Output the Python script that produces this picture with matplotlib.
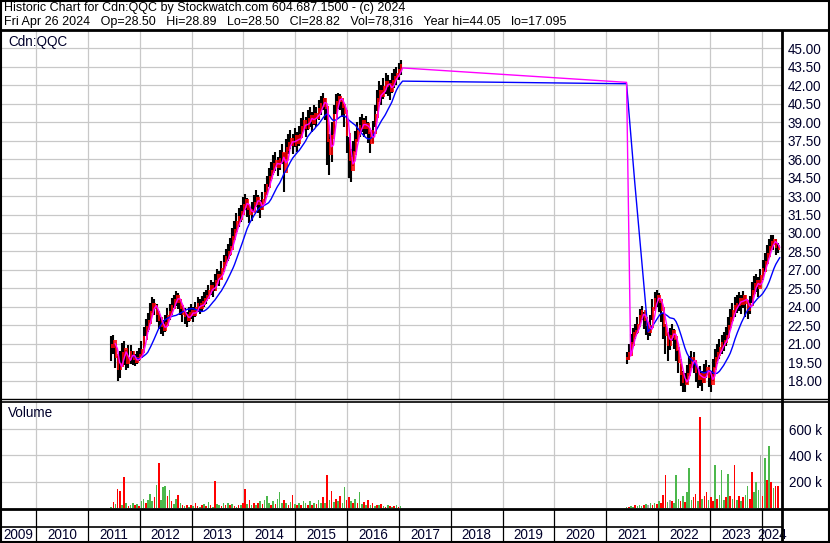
import numpy as np
import pandas as pd
import matplotlib
matplotlib.use("Agg")
import matplotlib.pyplot as plt

plt.rcParams['font.family'] = ['Liberation Sans', 'DejaVu Sans']

W, H = 830, 543

# ── data (semi-monthly samples, decimal-year dates) ─────────────────────────
START_A = 2011.45
START_B = 2021.39
STEP = 1 / 24

close_a = [20.8, 21.2, 20.0, 19.0, 19.3, 20.2, 20.5, 19.5, 19.8, 20.3,
           19.8, 19.6, 19.8, 20.0, 20.4, 21.5, 22.3, 22.8, 23.5, 24.2,
           24.0, 23.5, 23.0, 22.5, 22.2, 22.6, 23.2, 23.5, 24.0, 24.5,
           24.8, 24.5, 24.0, 23.5, 23.3, 23.0, 23.4, 23.6, 23.4, 23.8,
           24.2, 24.0, 24.3, 24.6, 24.8, 25.2, 25.6, 25.4, 26.0, 26.5,
           26.3, 27.0, 27.5, 28.0, 28.4, 28.8, 29.6, 30.2, 30.8, 31.2,
           31.6, 32.2, 32.6, 32.0, 31.6, 31.8, 32.4, 32.8, 32.4, 32.0,
           32.6, 33.2, 33.8, 34.5, 35.0, 35.5, 35.8, 35.4, 35.9, 36.4,
           35.0, 36.8, 37.2, 37.6, 37.2, 37.8, 37.4, 37.9, 38.5, 39.0,
           38.6, 39.2, 39.4, 39.0, 39.6, 39.4, 40.0, 40.4, 40.8, 40.2,
           37.5, 36.5, 37.8, 39.5, 40.6, 41.0, 40.8, 40.3, 39.8, 38.0,
           36.0, 35.2, 36.5, 37.5, 38.2, 38.6, 39.0, 38.6, 38.8, 38.2,
           37.4, 38.2, 39.5, 40.8, 41.5, 41.2, 41.8, 42.2, 42.0, 41.6,
           42.3, 42.6, 42.8, 43.2, 43.6]
high_a = [21.6, 21.7, 21.0, 20.0, 20.4, 21.1, 21.2, 20.5, 20.9, 20.9,
          20.4, 20.2, 20.4, 20.7, 21.2, 22.4, 23.0, 23.5, 24.3, 24.8,
          24.6, 24.2, 23.7, 23.2, 22.9, 23.3, 23.9, 24.2, 24.7, 25.0,
          25.3, 25.1, 24.6, 24.1, 23.9, 23.6, 24.0, 24.2, 24.0, 24.4,
          24.8, 24.6, 24.9, 25.2, 25.4, 25.8, 26.2, 26.0, 26.7, 27.1,
          26.9, 27.7, 28.2, 28.7, 29.1, 29.6, 30.4, 31.0, 31.6, 32.0,
          32.3, 32.9, 33.2, 32.8, 32.3, 32.5, 33.1, 33.5, 33.1, 32.7,
          33.3, 34.0, 34.6, 35.3, 35.8, 36.3, 36.6, 36.2, 36.7, 37.2,
          36.5, 37.6, 38.0, 38.4, 38.0, 38.5, 38.2, 38.7, 39.3, 39.8,
          39.4, 40.0, 40.2, 39.8, 40.4, 40.2, 40.8, 41.1, 41.4, 41.0,
          40.2, 38.0, 39.0, 40.4, 41.3, 41.4, 41.3, 40.9, 40.5, 39.6,
          37.8, 36.8, 37.5, 38.3, 39.0, 39.4, 39.7, 39.3, 39.5, 39.0,
          38.2, 39.1, 40.4, 41.6, 42.3, 42.0, 42.6, 43.0, 42.8, 42.4,
          43.0, 43.3, 43.5, 43.8, 44.05]
low_a = [19.6, 20.2, 19.0, 18.0, 18.2, 19.2, 19.3, 18.9, 19.0, 19.4,
         19.3, 19.2, 19.4, 19.6, 19.9, 20.7, 21.6, 22.0, 22.7, 23.5,
         23.3, 22.8, 22.2, 21.8, 21.6, 22.0, 22.5, 22.9, 23.3, 23.9,
         24.1, 23.8, 23.3, 22.8, 22.6, 22.4, 22.8, 23.0, 22.8, 23.2,
         23.6, 23.4, 23.7, 24.0, 24.2, 24.6, 25.0, 24.8, 25.3, 25.9,
         25.7, 26.3, 26.8, 27.3, 27.7, 28.1, 28.8, 29.4, 30.0, 30.5,
         30.9, 31.5, 31.9, 31.3, 30.8, 31.0, 31.7, 32.1, 31.6, 31.2,
         31.9, 32.5, 33.1, 33.7, 34.2, 34.7, 35.0, 34.6, 35.1, 35.6,
         33.3, 36.0, 36.4, 36.8, 36.4, 37.0, 36.6, 37.1, 37.7, 38.2,
         37.8, 38.4, 38.6, 38.2, 38.8, 38.6, 39.2, 39.6, 40.0, 39.2,
         35.5, 34.7, 35.8, 38.0, 39.7, 40.1, 40.0, 39.4, 38.6, 36.5,
         34.5, 34.1, 35.4, 36.6, 37.4, 37.8, 38.2, 37.8, 38.0, 37.3,
         36.5, 37.3, 38.6, 39.9, 40.6, 40.4, 40.9, 41.3, 41.1, 40.8,
         41.4, 41.8, 42.0, 42.4, 42.8]
vol_a = [5, 45, 30, 142, 130, 20, 237, 35, 15, 25,
         40, 20, 30, 15, 50, 70, 40, 60, 110, 50,
         80, 173, 344, 60, 160, 165, 90, 140, 50, 30,
         70, 97, 40, 20, 15, 25, 10, 20, 15, 38,
         15, 10, 20, 30, 15, 45, 20, 10, 207, 30,
         20, 15, 40, 25, 35, 20, 30, 15, 10, 25,
         20, 40, 145, 30, 60, 25, 40, 20, 35, 50,
         30, 60, 91, 40, 25, 50, 30, 70, 122, 40,
         60, 35, 20, 45, 97, 30, 25, 40, 20, 55,
         35, 25, 50, 20, 40, 30, 60, 35, 80, 40,
         252, 60, 129, 45, 70, 50, 90, 40, 163, 60,
         80, 50, 40, 70, 35, 122, 30, 45, 25, 60,
         20, 35, 15, 25, 20, 30, 15, 10, 20, 15,
         10, 15, 20, 10, 15]
dir_a = ("grgrrgrgrg" "grgrggrggg" "rgrgggrgrg" "grgrgrgrgr" "rgrgrgrgrg"
         "grgrgrgrgr" "grrgrgrgrg" "rgggrgrggg" "rgrgrgrgrg" "grgrgrggrg"
         "rgrgrgrggr" "rgrgrggrgr" "grgrgrgrgr" "grgrg")

close_b = [19.8, 20.2, 21.0, 21.8, 22.0, 22.5, 23.2, 23.6, 23.0, 22.6,
           22.0, 22.4, 23.8, 24.6, 24.8, 24.5, 23.8, 22.5, 21.8, 21.0,
           21.6, 22.0, 21.5, 20.6, 19.6, 18.6, 18.0, 17.8, 18.5, 19.2,
           19.8, 19.5, 18.8, 18.2, 18.5, 18.0, 18.6, 19.0, 18.4, 17.8,
           19.0, 19.8, 20.2, 20.6, 21.0, 21.2, 21.6, 22.4, 23.0, 23.6,
           24.0, 24.2, 24.6, 24.3, 24.8, 24.4, 23.8, 24.2, 25.2, 25.8,
           26.0, 25.6, 26.4, 27.0, 27.6, 28.2, 28.8, 29.2, 29.4, 28.9,
           28.8]
high_b = [20.3, 21.0, 21.8, 22.3, 22.6, 23.2, 23.8, 24.1, 23.6, 23.1,
          22.6, 23.3, 24.6, 25.2, 25.4, 25.1, 24.5, 23.5, 22.6, 21.9,
          22.3, 22.6, 22.2, 21.4, 20.5, 19.4, 18.8, 18.6, 19.3, 20.0,
          20.4, 20.3, 19.6, 19.0, 19.2, 18.8, 19.4, 19.7, 19.3, 18.8,
          19.8, 20.6, 21.0, 21.4, 21.7, 22.0, 22.4, 23.2, 23.8, 24.3,
          24.8, 25.0, 25.2, 25.0, 25.3, 25.0, 24.5, 24.9, 26.0, 26.5,
          26.7, 26.4, 27.1, 27.8, 28.4, 29.0, 29.5, 29.8, 29.8, 29.5,
          29.2]
low_b = [19.4, 19.7, 20.3, 21.0, 21.4, 21.8, 22.5, 22.9, 22.2, 21.7,
         21.3, 21.6, 22.9, 23.8, 24.0, 23.6, 22.8, 21.4, 20.2, 19.6,
         20.5, 21.2, 20.6, 19.6, 18.6, 17.6, 17.1, 17.1, 17.7, 18.4,
         19.0, 18.6, 17.9, 17.4, 17.6, 17.2, 17.8, 18.2, 17.5, 17.1,
         18.0, 19.0, 19.4, 19.8, 20.2, 20.4, 20.8, 21.4, 22.1, 22.8,
         23.2, 23.5, 23.7, 23.4, 23.9, 23.2, 23.0, 23.4, 24.3, 25.0,
         25.2, 24.8, 25.6, 26.2, 26.8, 27.4, 28.0, 28.5, 28.6, 28.2,
         28.4]
vol_b = [5, 10, 15, 10, 20, 15, 25, 15, 20, 30,
         20, 35, 25, 40, 30, 50, 35, 99, 251, 45,
         60, 56, 40, 251, 70, 50, 90, 45, 124, 306,
         60, 80, 106, 50, 694, 70, 90, 124, 60, 80,
         50, 327, 70, 100, 289, 60, 80, 261, 90, 70,
         327, 60, 90, 50, 80, 100, 167, 70, 274, 120,
         198, 140, 403, 90, 378, 213, 471, 200, 150, 167,
         167]
dir_b = ("grggrgggrg" "ngrgrgrrrg" "nrgggrgrgg" "grrgrgrrgr" "rgrgggrgrg"
         "rgrgrggrrg" "ggnrgrgrgr" "r")

YEARS = list(range(2009, 2025))
PRICE_TICKS = np.arange(18.0, 45.01, 1.5)
VOL_TICKS = [200000, 400000, 600000]

HEADER_1 = "Historic Chart for Cdn:QQC by Stockwatch.com 604.687.1500 - (c) 2024"
HEADER_2 = ("Fri Apr 26 2024   Op=28.50   Hi=28.89   Lo=28.50   Cl=28.82   "
            "Vol=78,316   Year hi=44.05   lo=17.095")

# ── derived series ──────────────────────────────────────────────────────────
t_a = START_A + np.arange(len(close_a)) * STEP
t_b = START_B + np.arange(len(close_b)) * STEP
t = np.concatenate([t_a, t_b])
close = np.array(close_a + close_b)
high = np.array(high_a + high_b)
low = np.array(low_a + low_b)
vol = np.array(vol_a + vol_b) * 1000.0
dirs = dir_a + dir_b

# previous close within each segment (no jump across the 2017-2021 gap)
prev = np.concatenate([[close_a[0]], close_a[:-1], [close_b[0]], close_b[:-1]])

# moving averages on a ~daily grid (each sample stands for ~10 trading days)
REP = 10
t_day = (t[:, None] + np.arange(REP)[None, :] * STEP / REP).ravel()
daily = pd.Series(np.repeat(close, REP))
ma_fast = daily.rolling(20, min_periods=20).mean()
ma_slow = daily.rolling(100, min_periods=100).mean()

XLIM = (2009.325, 2024.388)
TEXT = '#00002a'
GRID = '#c8c8c8'
FS = 9.75      # 13 px labels
FS_HEAD = 9    # 12 px header


def frac(x0, y0, x1, y1):
    return [x0 / W, 1 - y1 / H, (x1 - x0) / W, (y1 - y0) / H]


fig = plt.figure(figsize=(W / 100, H / 100), dpi=100)

# ── price panel ─────────────────────────────────────────────────────────────
ax = fig.add_axes(frac(1, 31, 782, 399))
ax.set_xlim(*XLIM)
ax.set_ylim(16.52, 46.40)
ax.set_xticks(YEARS[1:])
ax.set_yticks(PRICE_TICKS)
ax.set_yticklabels([f"{v:.2f}" for v in PRICE_TICKS])
ax.yaxis.tick_right()
ax.tick_params(axis='y', length=0, pad=4, labelsize=FS, labelcolor=TEXT)
ax.tick_params(axis='x', length=0, labelbottom=False)
ax.grid(True, color=GRID, lw=0.9)
ax.set_axisbelow(True)
for s in ax.spines.values():
    s.set_visible(False)

ax.vlines(t, low, high, color='black', lw=1.5, zorder=3)
ax.vlines(t + STEP * 0.35, np.minimum(prev, close) - 0.15,
          np.maximum(prev, close) + 0.15, color='#ff0000', lw=1.2, zorder=3)
ax.plot(t_day, ma_slow, color='#0000ff', lw=1.0, zorder=4)
ax.plot(t_day, ma_fast, color='#ff00ff', lw=1.0, zorder=5)

# ── volume panel ────────────────────────────────────────────────────────────
vax = fig.add_axes(frac(1, 402, 782, 508))
vax.set_xlim(*XLIM)
vax.set_ylim(0, 806000)
vax.set_xticks(YEARS[1:])
vax.set_yticks(VOL_TICKS)
vax.set_yticklabels([f"{v // 1000:d} k" for v in VOL_TICKS])
vax.yaxis.tick_right()
vax.tick_params(axis='y', length=0, pad=5, labelsize=FS, labelcolor=TEXT)
vax.tick_params(axis='x', length=0, labelbottom=False)
vax.grid(True, color=GRID, lw=0.9)
vax.set_axisbelow(True)
for s in vax.spines.values():
    s.set_visible(False)
cmap = {'g': '#4cb84c', 'r': '#ff0000', 'n': '#a8a8a8'}
vax.bar(t, vol, width=STEP * 0.75, color=[cmap[d] for d in dirs], lw=0, zorder=3)

# ── year band ───────────────────────────────────────────────────────────────
yax = fig.add_axes(frac(1, 509, 782, 543))
yax.set_xlim(*XLIM)
yax.set_ylim(0, 1)
yax.axis('off')
yax.vlines(YEARS[1:], 0, 1, color='black', lw=0.9)
yax.axhline(16 / 34, color='black', lw=1.2)
for y in YEARS:
    xc = (max(y, XLIM[0]) + min(y + 1, XLIM[1])) / 2
    yax.text(xc, 8 / 34, str(y), ha='center', va='center', fontsize=FS,
             color=TEXT, clip_on=False)

# ── frame, separators and captions ──────────────────────────────────────────
ov = fig.add_axes([0, 0, 1, 1], zorder=10)
ov.set_xlim(0, W)
ov.set_ylim(H, 0)
ov.axis('off')
ov.patch.set_visible(False)
k = dict(color='black', solid_capstyle='butt')
ov.plot([1, 1], [0, H], lw=1.5, **k)
ov.plot([W - 1, W - 1], [0, H], lw=1.5, **k)
ov.plot([0, W], [1, 1], lw=1.5, **k)
ov.plot([0, W], [H - 1, H - 1], lw=1.5, **k)
ov.plot([0, W], [30, 30], lw=2.0, **k)
ov.plot([782, 782], [30, H], lw=2.0, **k)
ov.plot([0, W], [399, 399], lw=1.0, **k)
ov.plot([0, W], [402, 402], lw=1.2, **k)
ov.plot([0, W], [509, 509], lw=2.0, **k)

ov.text(4, 11.5, HEADER_1, fontsize=FS_HEAD, va='baseline', ha='left', color='black')
ov.text(4, 25, HEADER_2, fontsize=FS_HEAD, va='baseline', ha='left', color='black')
ov.text(8, 42, "Cdn:QQC", fontsize=FS, va='center', ha='left', color=TEXT)
ov.text(8, 413, "Volume", fontsize=FS, va='center', ha='left', color=TEXT)

fig.savefig("out.png", dpi=100)
